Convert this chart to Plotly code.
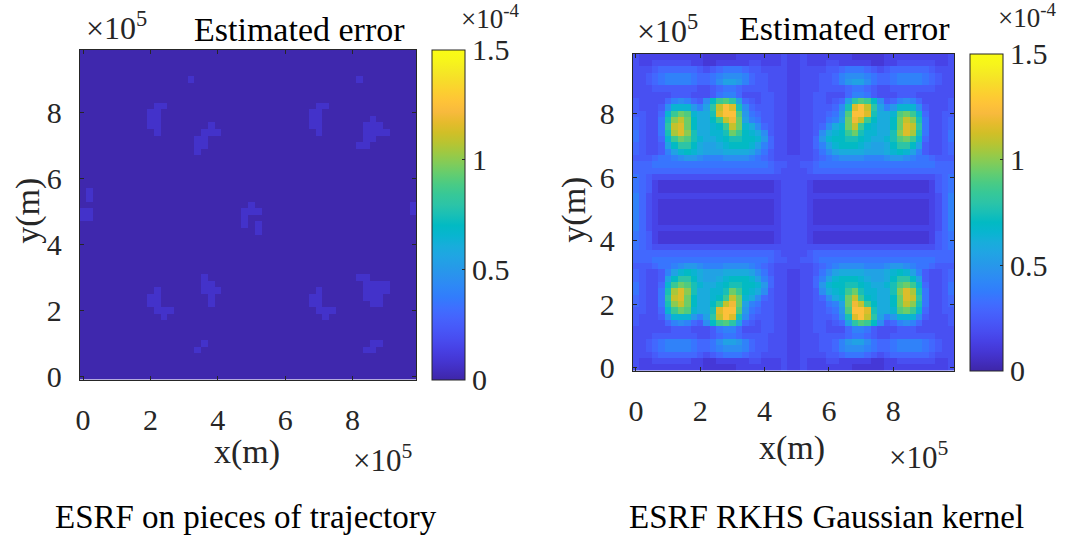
import plotly.graph_objects as go

# ---------------- data ----------------
# grid cell centres (m); 50 x 50 cells, 0.2e5 m spacing
N = 50
X_GRID = [i * 0.2e5 for i in range(N)]
Y_GRID = [i * 0.2e5 for i in range(N)]

X_TICKS = [0, 2e5, 4e5, 6e5, 8e5]
X_TICK_TEXT = ["0", "2", "4", "6", "8"]
Y_TICKS = [0, 2e5, 4e5, 6e5, 8e5]
Y_TICK_TEXT = ["0", "2", "4", "6", "8"]
CB_TICKS = [0, 0.5e-4, 1e-4, 1.5e-4]
CB_TICK_TEXT = ["0", "0.5", "1", "1.5"]

# Right panel (ESRF RKHS Gaussian kernel): estimated error,
# top-left quarter (rows from top, columns from left); one base-32 digit per cell,
# in units of 0.5e-5.  The picture is mirror-symmetric in x and y about its centre.
RIGHT_QUARTER = [
    "4333333333322222333333343",
    "4334444443322333334433343",
    "4445666666545677765544443",
    "4456788887667899986554443",
    "44567888876679bba86554443",
    "4445555555445677655554443",
    "4444445554445788644455443",
    "544446898659ehigb65455443",
    "544459ddda8bgmpnf96555443",
    "55446dhjidccfnppia7655443",
    "65447fkmjeccehmojb8755443",
    "65447gmnjeccdehmjdc965443",
    "75447flnkfccddfjhedc95443",
    "75446dhjifdccdeffeeda6443",
    "65445beggecbbcdeeedb86443",
    "654458bdedcbbbccccb975443",
    "55567789aa988899998765444",
    "6667777777777777777776554",
    "6666666666666666666666544",
    "7654444444444444444444444",
    "7653222222222222222222344",
    "7653222222222222222222344",
    "8643333333333333333333344",
    "8643222222222222222222344",
    "8643222222222222222222344",
]
RIGHT_UNIT = 0.5e-5

# Left panel (ESRF on pieces of trajectory): nearly zero everywhere,
# background level plus faint patches (row from top, first col, last col, level), units 1e-6
LEFT_BACKGROUND = 1
LEFT_PATCHES = [
    (4, 16, 16, 7), (4, 41, 41, 7),
    (8, 11, 12, 7), (9, 10, 11, 7), (10, 10, 11, 7), (11, 10, 11, 7), (12, 11, 11, 7),
    (11, 19, 19, 7), (12, 18, 20, 7), (13, 17, 18, 7), (14, 17, 18, 7), (15, 17, 17, 7),
    (8, 35, 36, 7), (9, 34, 35, 7), (10, 34, 35, 7), (11, 34, 35, 7), (12, 35, 35, 7),
    (10, 43, 43, 7), (11, 42, 44, 7), (12, 42, 45, 7), (13, 42, 43, 7), (14, 41, 42, 7),
    (21, 1, 1, 7), (22, 1, 1, 7), (24, 0, 1, 7), (25, 0, 1, 7),
    (23, 25, 25, 7), (24, 24, 26, 7), (25, 24, 24, 7), (26, 24, 24, 7), (26, 26, 26, 7), (27, 26, 26, 7),
    (23, 49, 49, 7), (24, 49, 49, 7),
    (34, 18, 18, 7), (35, 18, 19, 7), (36, 18, 20, 7), (37, 19, 19, 7), (38, 19, 19, 7),
    (36, 11, 11, 7), (37, 10, 11, 7), (38, 10, 11, 7), (39, 11, 13, 7), (40, 12, 12, 7),
    (44, 18, 18, 7), (45, 17, 17, 7),
    (36, 35, 35, 7), (37, 34, 35, 7), (38, 34, 35, 7), (39, 35, 37, 7), (40, 36, 36, 7),
    (34, 41, 42, 7), (35, 42, 45, 7), (36, 42, 45, 7), (37, 42, 44, 7), (38, 43, 44, 7),
    (44, 43, 44, 7), (45, 42, 43, 7),
]
LEFT_UNIT = 1e-6

# ---------------- build matrices ----------------
right_rows_top = []
for r in range(N):
    q = RIGHT_QUARTER[r] if r < 25 else RIGHT_QUARTER[N - 1 - r]
    q = (q + q[-1] * 25)[:25]
    full = q + q[::-1]
    right_rows_top.append([int(ch, 32) * RIGHT_UNIT for ch in full])
z_right = right_rows_top[::-1]  # bottom row first

left_rows_top = [[LEFT_BACKGROUND * LEFT_UNIT] * N for _ in range(N)]
for (r, c0, c1, lev) in LEFT_PATCHES:
    for c in range(c0, c1 + 1):
        left_rows_top[r][c] = lev * LEFT_UNIT
z_left = left_rows_top[::-1]

# ---------------- style ----------------
PARULA = [
    [0.2422, 0.1504, 0.6603], [0.2578, 0.1818, 0.7511], [0.2706, 0.2147, 0.8364],
    [0.2783, 0.2559, 0.8991], [0.2813, 0.3006, 0.9414], [0.2795, 0.3447, 0.9717],
    [0.2699, 0.3892, 0.9906], [0.2440, 0.4358, 0.9988], [0.1963, 0.4847, 0.9892],
    [0.1786, 0.5289, 0.9682], [0.1687, 0.5703, 0.9359], [0.1460, 0.6091, 0.9079],
    [0.1248, 0.6459, 0.8883], [0.0952, 0.6798, 0.8598], [0.0297, 0.7082, 0.8163],
    [0.0067, 0.7312, 0.7660], [0.0964, 0.7500, 0.7120], [0.1717, 0.7670, 0.6554],
    [0.2161, 0.7843, 0.5923], [0.2906, 0.7973, 0.5188], [0.3909, 0.8029, 0.4354],
    [0.5044, 0.7993, 0.3480], [0.6174, 0.7876, 0.2612], [0.7242, 0.7698, 0.1910],
    [0.8203, 0.7498, 0.1535], [0.9035, 0.7330, 0.1774], [0.9728, 0.7298, 0.2394],
    [0.9970, 0.7659, 0.2199], [0.9892, 0.8136, 0.1885], [0.9676, 0.8639, 0.1643],
    [0.9597, 0.9135, 0.1423], [0.9691, 0.9606, 0.1064], [0.9769, 0.9839, 0.0805],
]
n = len(PARULA)
colorscale = [[i / (n - 1), "rgb(%d,%d,%d)" % tuple(round(v * 255) for v in c)] for i, c in enumerate(PARULA)]

W, H = 1078, 539
FONT = "Liberation Serif, Times New Roman, serif"
AX_COLOR = "#262626"
TICK_SIZE = 30


def px(x):
    return x / W


def py(y):
    return 1 - y / H


panels = [
    dict(z=z_left, x0=76, x1=414, y0=51, y1=389, cb_x0=430, cb_x1=463, xa="x", ya="y"),
    dict(z=z_right, x0=631, x1=954, y0=55, y1=380, cb_x0=970, cb_x1=1003, xa="x2", ya="y2"),
]

fig = go.Figure()
for p in panels:
    fig.add_trace(go.Heatmap(
        z=p["z"], x=X_GRID, y=Y_GRID, xaxis=p["xa"], yaxis=p["ya"],
        colorscale=colorscale, zmin=0, zmax=1.5e-4, zsmooth=False,
        hoverinfo="skip",
        colorbar=dict(
            x=px(p["cb_x0"]), xanchor="left", xpad=0, ypad=0,
            y=py((p["y0"] + p["y1"]) / 2), yanchor="middle",
            len=(p["y1"] - p["y0"]) / H, lenmode="fraction",
            thickness=p["cb_x1"] - p["cb_x0"], thicknessmode="pixels",
            outlinewidth=1, outlinecolor=AX_COLOR,
            tickvals=CB_TICKS, ticktext=CB_TICK_TEXT,
            ticks="inside", ticklen=3, tickcolor=AX_COLOR,
            tickfont=dict(family=FONT, size=TICK_SIZE, color=AX_COLOR),
        ),
    ))

axis_common = dict(
    range=[-0.1e5, 9.9e5], showgrid=False, zeroline=False,
    ticks="inside", ticklen=4, tickwidth=1, tickcolor=AX_COLOR,
    showline=True, linecolor=AX_COLOR, linewidth=1, mirror="ticks",
    tickfont=dict(family=FONT, size=TICK_SIZE, color=AX_COLOR),
)

layout = dict(
    width=W, height=H, margin=dict(l=0, r=0, t=0, b=0),
    paper_bgcolor="white", plot_bgcolor="white", showlegend=False,
)
for i, p in enumerate(panels):
    sx = "" if i == 0 else "2"
    layout["xaxis" + sx] = dict(axis_common, domain=[px(p["x0"]), px(p["x1"])],
                                anchor="y" + sx, tickvals=X_TICKS, ticktext=X_TICK_TEXT,
                                ticklabelstandoff=13)
    layout["yaxis" + sx] = dict(axis_common, domain=[py(p["y1"]), py(p["y0"])],
                                anchor="x" + sx, tickvals=Y_TICKS, ticktext=Y_TICK_TEXT,
                                ticklabelstandoff=11)
fig.update_layout(**layout)

TXT = "black"
annotations = []


def ann(text, x, y, size, angle=0, color=TXT):
    annotations.append(dict(text=text, x=px(x), y=py(y), xref="paper", yref="paper",
                            xanchor="center", yanchor="middle", showarrow=False,
                            textangle=angle, font=dict(family=FONT, size=size, color=color)))


# left panel texts
ann("×10<sup>5</sup>", 113, 27, 32, color=AX_COLOR)
ann("Estimated error", 297, 30, 34)
ann("×10<sup>-4</sup>", 488, 17, 27, color=AX_COLOR)
ann("y(m)", 24, 216, 34, angle=-90, color=AX_COLOR)
ann("x(m)", 244, 463, 34, color=AX_COLOR)
ann("×10<sup>5</sup>", 380, 470, 31, color=AX_COLOR)
ann("ESRF on pieces of trajectory", 243, 530, 33)
# right panel texts
ann("×10<sup>5</sup>", 666, 30, 32, color=AX_COLOR)
ann("Estimated error", 844, 29, 34)
ann("×10<sup>-4</sup>", 1027, 16, 27, color=AX_COLOR)
ann("y(m)", 572, 215, 34, angle=-90, color=AX_COLOR)
ann("x(m)", 791, 459, 34, color=AX_COLOR)
ann("×10<sup>5</sup>", 918, 467, 31, color=AX_COLOR)
ann("ESRF RKHS Gaussian kernel", 826, 530, 33)

fig.update_layout(annotations=annotations)
fig.write_html("out.html")
